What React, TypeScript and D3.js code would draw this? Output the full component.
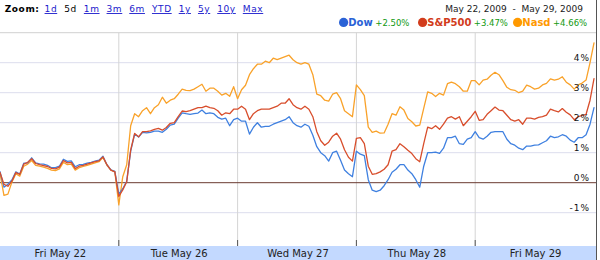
import React from 'react';
import * as d3 from 'd3';

const dayLabels = ['Fri May 22', 'Tue May 26', 'Wed May 27', 'Thu May 28', 'Fri May 29'];
const pointsPerDay = 30;
const yTicks = [-1, 0, 1, 2, 3, 4];
const zoomLinks = ['1d', '5d', '1m', '3m', '6m', 'YTD', '1y', '5y', '10y', 'Max'];
const activeZoom = '5d';
const dateRange = 'May 22, 2009  -  May 29, 2009';

// % change vs. previous close (5 trading days x 30 samples + final close)
const dow = [
  0.37, -0.15, -0.05, 0.09, 0.36, 0.29, 0.65, 0.66, 0.83, 0.66, 0.63, 0.62, 0.58, 0.50, 0.50, 0.55, 0.78, 0.71, 0.73, 0.53, 0.60, 0.61, 0.65, 0.68, 0.72, 0.75, 0.88, 0.60, 0.43, 0.38,
  -0.38, -0.2, 0.05, 1.05, 1.62, 1.52, 1.68, 1.66, 1.68, 1.72, 1.72, 1.68, 1.78, 1.92, 1.95, 2.15, 2.33, 2.3, 2.28, 2.3, 2.32, 2.42, 2.3, 2.33, 2.3, 2.18, 2.12, 2.15, 1.9, 2.1,
  2.15, 2.05, 2.05, 1.62, 1.85, 2.0, 1.85, 1.88, 1.88, 1.95, 2.0, 2.05, 2.1, 2.2, 2.0, 1.9, 1.85, 1.95, 1.88, 1.58, 1.2, 1.0, 0.9, 0.72, 1.0, 1.05, 0.75, 0.42, 0.3, 0.2,
  1.05, 0.95, 0.9, 0.1, -0.25, -0.3, -0.25, -0.1, 0.1, 0.35, 0.45, 0.6, 0.6, 0.42, 0.3, 0.1, -0.15, 0.55, 1.0, 1.0, 1.02, 0.98, 1.15, 1.5, 1.5, 1.55, 1.3, 1.28, 1.45, 1.5,
  1.7, 1.5, 1.45, 1.55, 1.68, 1.7, 1.7, 1.7, 1.45, 1.3, 1.25, 1.15, 1.1, 1.22, 1.22, 1.25, 1.26, 1.33, 1.4, 1.55, 1.5, 1.53, 1.6, 1.55, 1.42, 1.35, 1.5, 1.5, 1.6, 1.95,
  2.5,
];

const sp500 = [
  0.34, -0.05, -0.12, 0.05, 0.34, 0.28, 0.62, 0.68, 0.80, 0.64, 0.60, 0.57, 0.54, 0.48, 0.46, 0.52, 0.74, 0.66, 0.68, 0.47, 0.55, 0.58, 0.62, 0.66, 0.70, 0.73, 0.86, 0.60, 0.42, 0.36,
  -0.46, -0.24, 0.03, 1.09, 1.64, 1.53, 1.70, 1.70, 1.73, 1.78, 1.81, 1.75, 1.84, 1.98, 2.0, 2.2, 2.39, 2.37, 2.4, 2.45, 2.5, 2.5, 2.55, 2.5, 2.48, 2.4, 2.25, 2.33, 2.3, 2.45,
  2.45, 2.55, 2.45, 2.1, 2.3, 2.4, 2.45, 2.45, 2.45, 2.5, 2.55, 2.65, 2.65, 2.8, 2.6, 2.5, 2.45, 2.55, 2.45, 2.2, 1.7, 1.4, 1.25, 1.35, 1.55, 1.65, 1.45, 1.1, 0.85, 0.72,
  1.48, 1.5, 1.3, 0.55, 0.28, 0.3, 0.36, 0.45, 0.6, 1.05, 1.1, 1.3, 1.2, 1.08, 0.97, 0.8, 0.7, 1.3, 1.85, 1.8, 1.9, 1.78, 1.95, 2.15, 2.2, 2.12, 2.2, 1.9, 2.05, 2.2,
  2.38, 2.08, 2.1, 2.28, 2.4, 2.52, 2.42, 2.4, 2.25, 2.1, 2.05, 2.1, 1.95, 2.15, 2.15, 2.12, 2.18, 2.2, 2.25, 2.45, 2.4, 2.36, 2.47, 2.35, 2.26, 2.1, 2.2, 2.24, 2.28, 2.75,
  3.47,
];

const nasd = [
  0.30, -0.42, -0.38, 0.02, 0.30, 0.22, 0.55, 0.62, 0.74, 0.58, 0.55, 0.52, 0.48, 0.42, 0.40, 0.46, 0.68, 0.60, 0.62, 0.42, 0.50, 0.54, 0.58, 0.62, 0.66, 0.70, 0.85, 0.58, 0.42, 0.37,
  -0.74, 0.2, 0.6, 1.9, 2.3, 2.2, 2.4, 2.5, 2.3, 2.5, 2.6, 2.85, 2.65, 2.75, 2.8, 2.95, 3.12, 3.08, 3.07, 3.12, 3.2, 3.28, 3.05, 3.15, 3.15, 3.05, 2.92, 2.98, 2.88, 3.2,
  2.8, 3.1, 3.25, 3.6, 3.8, 3.95, 3.95, 4.05, 4.0, 4.15, 4.1, 4.15, 4.2, 4.25, 4.1, 4.0, 3.95, 4.0, 3.95, 3.6, 2.95, 2.9, 2.75, 2.72, 2.95, 3.0, 2.8, 2.4, 2.3, 2.2,
  3.26, 3.1, 2.9, 1.85, 1.68, 1.72, 1.65, 1.66, 1.95, 2.3, 2.25, 2.53, 2.42, 2.14, 2.03, 1.89, 1.92, 2.48, 3.03, 2.98, 2.87, 2.98, 2.92, 3.3, 3.35, 3.3, 3.2, 3.05, 3.05, 3.4,
  3.4, 3.26, 3.42, 3.45, 3.58, 3.68, 3.6, 3.4, 3.18, 3.1, 3.08, 3.0, 3.05, 3.25, 3.2, 3.12, 3.15, 3.26, 3.31, 3.46, 3.42, 3.45, 3.53, 3.35, 3.26, 3.12, 3.26, 3.32, 3.42, 4.0,
  4.66,
];

const seriesNames = ['Dow', 'S&P500', 'Nasd'];
const seriesChanges = ['+2.50%', '+3.47%', '+4.66%'];
const seriesColors = ['#3f80e0', '#d84e2c', '#f9a22a'];
const legendTextColors = ['#2a62d6', '#d23c1c', '#ff9900'];
const legendStartX = [339, 418, 513];
const nameWidths = [24.5, 44, 28.2];

export default function App() {
  const W = 600;
  const H = 260;
  const plotRight = 594;
  const plotTop = 32.7;
  const plotBottom = 246;
  const nDays = dayLabels.length;

  const x = d3.scaleLinear().domain([0, nDays * pointsPerDay]).range([0, plotRight]);
  const y = d3.scaleLinear().domain([-1, 5]).range([212.7, plotTop]);
  const line = d3
    .line<number>()
    .x((_, i) => x(i))
    .y((d) => y(d));

  const dayBounds = d3.range(1, nDays).map((d) => x(d * pointsPerDay));
  const dayCenters = d3.range(nDays).map((d) => x((d + 0.5) * pointsPerDay) + 1);
  const allSeries = [dow, sp500, nasd];
  const drawOrder = [2, 0, 1];
  const font = 'DejaVu Sans, Verdana, sans-serif';

  return (
    <svg
      width={W}
      height={H}
      style={{ position: 'absolute', left: 0, top: 0, background: '#fff' }}
      fontFamily={font}
    >
      {/* header: zoom links */}
      <text x={4.7} y={12} fontSize={9} letterSpacing={0.6} fill="#000">
        <tspan fontWeight="bold">Zoom:</tspan>
        {zoomLinks.map((z, i) => (
          <tspan
            key={z}
            dx={i === 0 ? 5 : 7}
            fill={z === activeZoom ? '#000' : '#1a1acc'}
            textDecoration={z === activeZoom ? 'none' : 'underline'}
          >
            {z}
          </tspan>
        ))}
      </text>
      <text x={583} y={12} fontSize={9} textAnchor="end" fill="#222" style={{ whiteSpace: 'pre' }}>
        {dateRange}
      </text>

      {/* legend */}
      {seriesNames.map((name, i) => (
        <g key={name}>
          <circle cx={legendStartX[i] + 4.6} cy={22.4} r={4.6} fill={legendTextColors[i]} />
          <text x={legendStartX[i] + 9.3} y={26.2} fontSize={10} fontWeight="bold" fill={legendTextColors[i]}>
            {name}
          </text>
          <text x={legendStartX[i] + 9.3 + nameWidths[i] + 2.5} y={26.2} fontSize={8.5} fill="#119911">
            {seriesChanges[i]}
          </text>
        </g>
      ))}

      {/* horizontal gridlines */}
      {yTicks
        .filter((t) => t !== 0)
        .map((t) => (
          <line key={t} x1={0} x2={plotRight + 2} y1={y(t)} y2={y(t)} stroke="#dcdded" strokeWidth={1} />
        ))}
      <line x1={0} x2={plotRight + 2} y1={y(5)} y2={y(5)} stroke="#d0d0d0" strokeWidth={1} />

      {/* vertical day separators */}
      {dayBounds.map((bx, i) => (
        <line key={i} x1={bx} x2={bx} y1={plotTop} y2={plotBottom} stroke="#d4d4d4" strokeWidth={1} />
      ))}

      {/* zero line */}
      <line x1={0} x2={plotRight + 2} y1={y(0)} y2={y(0)} stroke="#6b3a30" strokeWidth={1} />

      {/* series */}
      {drawOrder.map((si) => (
        <path
          key={si}
          d={line(allSeries[si]) || ''}
          fill="none"
          stroke={seriesColors[si]}
          strokeWidth={1.3}
          strokeLinejoin="round"
          strokeLinecap="round"
        />
      ))}

      {/* y labels */}
      {yTicks.map((t) => (
        <text key={t} x={590} y={y(t) - 1.5} fontSize={9} letterSpacing={1} textAnchor="end" fill="#111">
          {`${t}%`}
        </text>
      ))}

      {/* bottom axis band */}
      <rect x={0} y={plotBottom} width={plotRight + 2} height={H - plotBottom} fill="#c3d9ff" />
      {dayBounds.map((bx, i) => (
        <line key={i} x1={bx} x2={bx} y1={240} y2={plotBottom} stroke="#555" strokeWidth={1} />
      ))}
      {dayLabels.map((lbl, i) => (
        <text key={lbl} x={dayCenters[i]} y={256.5} fontSize={10} textAnchor="middle" fill="#222">
          {lbl}
        </text>
      ))}

      {/* right border */}
      <line x1={596.5} x2={596.5} y1={0} y2={H} stroke="#555" strokeWidth={1} />
    </svg>
  );
}
